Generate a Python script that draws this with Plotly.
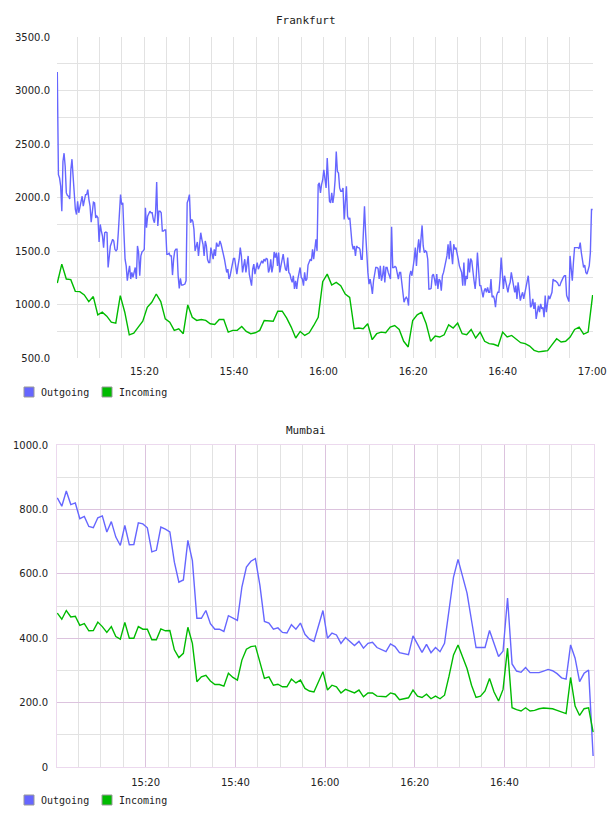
import plotly.graph_objects as go
import pandas as pd

# ---------------- data ----------------
SERIES_NAMES = ["Outgoing", "Incoming"]
PANEL_TITLES = ["Frankfurt", "Mumbai"]

FRA_OUT = [
    3173, 2213, 2182, 2105, 1872, 2337, 2414, 2290, 2043, 2018, 2012, 1987, 2259, 2358, 2197, 1981, 1888, 1841, 1965, 1857,
    1903, 1950, 2012, 1919, 1996, 2027, 2027, 2074, 1981, 1919, 1770, 1903, 1956, 1950, 1810, 1826, 1810, 1584, 1748, 1687,
    1640, 1532, 1671, 1677, 1671, 1346, 1485, 1547, 1578, 1609, 1594, 1516, 1501, 1516, 1671, 1919, 2027, 1934, 1950, 1671,
    1423, 1361, 1222, 1300, 1361, 1238, 1300, 1253, 1300, 1346, 1238, 1547, 1485, 1269, 1454, 1491, 1501, 1516, 1903, 1718,
    1826, 1857, 1872, 1857, 1857, 1795, 1764, 1857, 2145, 1733, 1872, 1872, 1857, 1687, 1687, 1696, 1696, 1470, 1470, 1479,
    1454, 1454, 1275, 1423, 1501, 1516, 1516, 1269, 1151, 1244, 1182, 1182, 1185, 1191, 1222, 1950, 1981, 2027,
    1764, 1795, 1779, 1702, 1501, 1532, 1584, 1454, 1563, 1671, 1609, 1563, 1454, 1594, 1547, 1423, 1392, 1392, 1532, 1485,
    1423, 1516, 1454, 1578, 1547, 1547, 1594, 1563, 1501, 1470, 1423, 1346, 1300, 1330, 1238, 1269, 1330, 1392, 1430, 1430,
    1330, 1284, 1361, 1423, 1532, 1454, 1300, 1346, 1423, 1300, 1392, 1454, 1284, 1222, 1176, 1330, 1377, 1284, 1346, 1392,
    1330, 1361, 1392, 1408, 1386, 1423, 1408, 1430, 1423, 1300, 1330, 1423, 1300, 1361, 1491, 1439, 1485, 1361, 1485, 1300,
    1361, 1439, 1470, 1392, 1330, 1315, 1439, 1300, 1284, 1238, 1207, 1269, 1145, 1222, 1145, 1238, 1300, 1346, 1253, 1238,
    1176, 1300, 1222, 1238, 1368, 1392, 1423, 1408, 1516, 1423, 1532, 1609, 1501, 2120, 2136, 2043, 2120, 2166, 2259,
    2166, 2089, 2368, 2136, 1965, 1950, 2043, 1950, 2027, 2166, 2430, 2244, 2228, 2089, 2058, 2058, 2089, 1795, 1981, 2105,
    1826, 1795, 1810, 1671, 1563, 1516, 1547, 1454, 1547, 1532, 1532, 1516, 1423, 1423, 1671, 1919, 1671, 1423, 1300, 1191,
    1238, 1176, 1098, 1222, 1300, 1346, 1346, 1337, 1238, 1361, 1222, 1269, 1361, 1207, 1346, 1346, 1300, 1269, 1238, 1727,
    1346, 1346, 1355, 1346, 1269, 1238, 1300, 1300, 1207, 1114, 1021, 1052, 1067, 1052, 990, 1269, 1315, 1269, 1330, 1423,
    1532, 1361, 1516, 1609, 1485, 1640, 1739, 1547, 1485, 1501, 1491, 1423, 1145, 1145, 1151, 1269, 1284, 1238, 1176, 1284,
    1145, 1238, 1222, 1129, 1269, 1300, 1346, 1408, 1454, 1563, 1423, 1594, 1485, 1377, 1563, 1516, 1532, 1454, 1423, 1361,
    1330,
    1300, 1176, 1392, 1176, 1269, 1238, 1430, 1300, 1430, 1408, 1269, 1222, 1145, 1269, 1485, 1361, 1176, 1176, 1114, 1067,
    1129, 1151, 1114, 1160, 1114, 1114, 1238, 1067, 1083, 1052, 974, 1083, 1114, 1114, 1238, 1439, 1300, 1145, 1269, 1222,
    1145, 1114, 1176, 1207, 1300, 1238, 1191, 1114, 1176, 1052, 1207, 1114, 1036, 1083, 1114, 1052, 1114, 1145, 1207, 1269,
    1145, 974, 990, 1052, 959, 1021, 866, 943, 990, 928, 1005, 959, 974, 881, 1083, 928, 990, 1083, 1052, 1098,
    1114, 1238, 1222, 1222, 1213, 1201, 1176, 1176, 1207, 1238, 1253, 1269, 1269, 1083, 1052, 1027, 1454, 1300, 1222, 1392,
    1532, 1532, 1532, 1532, 1522, 1578, 1485, 1392, 1346, 1368, 1300, 1284, 1330, 1361, 1485, 1888, 1888,
]

FRA_IN = [
    1200, 1377, 1238, 1232, 1123, 1120, 1089, 1027, 1074, 903, 928, 891, 835, 826, 1083, 928, 717, 733, 789, 844,
    974, 1021, 1098, 1027, 866, 835, 758, 773, 727, 996, 881,
    851, 860, 851, 820, 813, 860, 860, 742, 758, 758, 795, 748, 727, 736, 758, 851, 844, 844, 937, 937,
    872, 789, 687, 748, 711, 736, 804, 881, 1213, 1284,
    1182, 1207, 1176, 1098, 1067, 773, 780, 773, 820, 671, 727, 742, 736, 789, 804, 767, 656, 603, 851, 903,
    928, 820, 656, 705, 696, 717, 810, 780, 826, 727,
    717, 767, 687, 742, 656, 634, 628, 612, 742, 696, 711, 680, 643, 634, 612, 572, 557, 563, 569, 625,
    680, 650, 656, 696, 767, 789, 724, 742, 1089,
]

MUM_OUT = [
    836, 810, 857, 815, 820, 771, 778, 747, 743, 774, 780, 730, 762, 714, 688, 750, 690, 691, 758, 755,
    743, 668, 673, 745, 739, 730, 636, 574, 581, 704, 641, 462, 462, 486, 445, 428, 428, 421, 470, 462,
    455, 559, 621, 639, 647, 564, 452, 447, 428, 432, 418, 416, 442, 428, 447, 412, 397, 390, 436, 486,
    400, 416, 410, 384, 402, 390, 377, 390, 369, 384, 387, 371, 364, 358, 382, 374, 355, 351, 349, 407,
    379, 356, 381, 355, 371, 358, 384, 488, 590, 645, 595, 540, 455, 371, 371, 371, 424, 384, 343, 360,
    525, 320, 298, 294, 309, 293, 293, 293, 298, 303, 299, 290, 277, 273, 379, 338, 265, 291, 301, 34,
]

MUM_IN = [
    478, 459, 486, 466, 468, 440, 445, 423, 424, 450, 436, 418, 436, 405, 397, 449, 400, 400, 436, 428,
    428, 395, 395, 429, 423, 424, 364, 340, 353, 434, 384, 265, 280, 285, 267, 256, 256, 251, 291, 278,
    270, 332, 366, 374, 376, 324, 275, 280, 254, 257, 249, 249, 273, 261, 270, 244, 236, 233, 265, 296,
    239, 254, 249, 230, 241, 236, 230, 239, 218, 230, 230, 220, 218, 218, 230, 226, 209, 212, 215, 239,
    220, 216, 226, 212, 220, 212, 223, 282, 348, 379, 343, 306, 254, 216, 220, 236, 275, 233, 205, 241,
    369, 184, 178, 174, 184, 174, 176, 181, 183, 181, 181, 176, 171, 166, 278, 189, 160, 181, 184, 108,
]

FRA_YTICKS = [500, 1000, 1500, 2000, 2500, 3000, 3500]
FRA_YTICKTEXT = ["500.0", "1000.0", "1500.0", "2000.0", "2500.0", "3000.0", "3500.0"]
MUM_YTICKS = [0, 200, 400, 600, 800, 1000]
MUM_YTICKTEXT = ["0", "200.0", "400.0", "600.0", "800.0", "1000.0"]

DAY = "2024-01-01 "
fra_out_t = pd.date_range(DAY + "15:00:34", DAY + "17:00:05", periods=len(FRA_OUT))
fra_in_t = pd.date_range(DAY + "15:00:34", DAY + "17:00:05", periods=len(FRA_IN))
mum_out_t = pd.date_range(DAY + "15:00:18", DAY + "16:59:47", periods=len(MUM_OUT))
mum_in_t = pd.date_range(DAY + "15:00:18", DAY + "16:59:47", periods=len(MUM_IN))

# ---------------- styling ----------------
W, H = 608, 816
BLUE = "#6666ff"
GREEN = "#00bb00"
TXT = "#222222"
TICKFONT = dict(family="DejaVu Sans", size=10, color=TXT)
MONO = "DejaVu Sans Mono"


def px(x):
    return x / W


def py(y):
    return 1 - y / H


fig = go.Figure()
fig.add_trace(go.Scatter(x=fra_out_t, y=FRA_OUT, mode="lines", name=SERIES_NAMES[0],
                         line=dict(color=BLUE, width=1.4), xaxis="x", yaxis="y", showlegend=False))
fig.add_trace(go.Scatter(x=fra_in_t, y=FRA_IN, mode="lines", name=SERIES_NAMES[1],
                         line=dict(color=GREEN, width=1.4), xaxis="x", yaxis="y", showlegend=False))
fig.add_trace(go.Scatter(x=mum_out_t, y=MUM_OUT, mode="lines", name=SERIES_NAMES[0],
                         line=dict(color=BLUE, width=1.4), xaxis="x2", yaxis="y2", showlegend=False))
fig.add_trace(go.Scatter(x=mum_in_t, y=MUM_IN, mode="lines", name=SERIES_NAMES[1],
                         line=dict(color=GREEN, width=1.4), xaxis="x2", yaxis="y2", showlegend=False))

GRID_GRAY = "#e2e2e2"
GRID_PURPLE = "#dcc3de"
BORDER = "#ecd9ee"

xcommon = dict(type="date", tickformat="%H:%M", dtick=1200000, tick0=DAY + "15:00",
               zeroline=False, ticks="", tickfont=TICKFONT, ticklabelstandoff=6,
               fixedrange=True, automargin=False)

fig.update_layout(
    width=W, height=H, margin=dict(l=0, r=0, t=0, b=0, pad=0), autosize=False,
    paper_bgcolor="white", plot_bgcolor="white", showlegend=False,
    xaxis=dict(domain=[px(57), px(593)], anchor="y",
               range=[DAY + "15:00:30", DAY + "17:00:10"],
               showgrid=True, gridcolor=GRID_GRAY, showline=False,
               minor=dict(dtick=300000, tick0=DAY + "15:00", showgrid=True, gridcolor=GRID_GRAY),
               **xcommon),
    yaxis=dict(domain=[py(358), py(37)], anchor="x", range=[500, 3500],
               tickmode="array", tickvals=FRA_YTICKS, ticktext=FRA_YTICKTEXT,
               showgrid=False, zeroline=False, showline=False, ticks="",
               minor=dict(tickmode="linear", dtick=250, tick0=500, showgrid=True, gridcolor=GRID_GRAY),
               tickfont=TICKFONT, ticklabelstandoff=6, fixedrange=True, automargin=False),
    xaxis2=dict(domain=[px(57), px(594)], anchor="y2",
                range=[DAY + "15:00:14", DAY + "16:59:59"],
                showgrid=True, gridcolor=GRID_PURPLE, showline=True, mirror=True, linecolor=BORDER,
                minor=dict(dtick=300000, tick0=DAY + "15:00", showgrid=True, gridcolor=GRID_GRAY),
                **xcommon),
    yaxis2=dict(domain=[py(767), py(445)], anchor="x2", range=[0, 1000],
                tickmode="array", tickvals=MUM_YTICKS, ticktext=MUM_YTICKTEXT,
                showgrid=True, gridcolor=GRID_PURPLE, zeroline=False,
                showline=True, mirror=True, linecolor=BORDER, ticks="",
                minor=dict(tickmode="linear", dtick=100, tick0=0, showgrid=True, gridcolor=GRID_GRAY),
                tickfont=TICKFONT, ticklabelstandoff=6, fixedrange=True, automargin=False),
)

annotations = []
shapes = []
# titles
for title, yc in zip(PANEL_TITLES, [20, 430]):
    annotations.append(dict(text=title, x=px(306), y=py(yc), xref="paper", yref="paper",
                            xanchor="center", yanchor="middle", showarrow=False,
                            font=dict(family=MONO, size=11, color=TXT)))
# legends
for yc in [392, 800]:
    for name, color, x0 in zip(SERIES_NAMES, [BLUE, GREEN], [24, 102]):
        shapes.append(dict(type="rect", xref="paper", yref="paper",
                           x0=px(x0), x1=px(x0 + 10), y0=py(yc + 5), y1=py(yc - 5),
                           fillcolor=color, line=dict(color="#999999", width=1)))
        annotations.append(dict(text=name, x=px(x0 + 15), y=py(yc), xref="paper", yref="paper",
                                xanchor="left", yanchor="middle", showarrow=False,
                                font=dict(family=MONO, size=10, color=TXT)))

fig.update_layout(annotations=annotations, shapes=shapes)
fig.write_html("out.html")
